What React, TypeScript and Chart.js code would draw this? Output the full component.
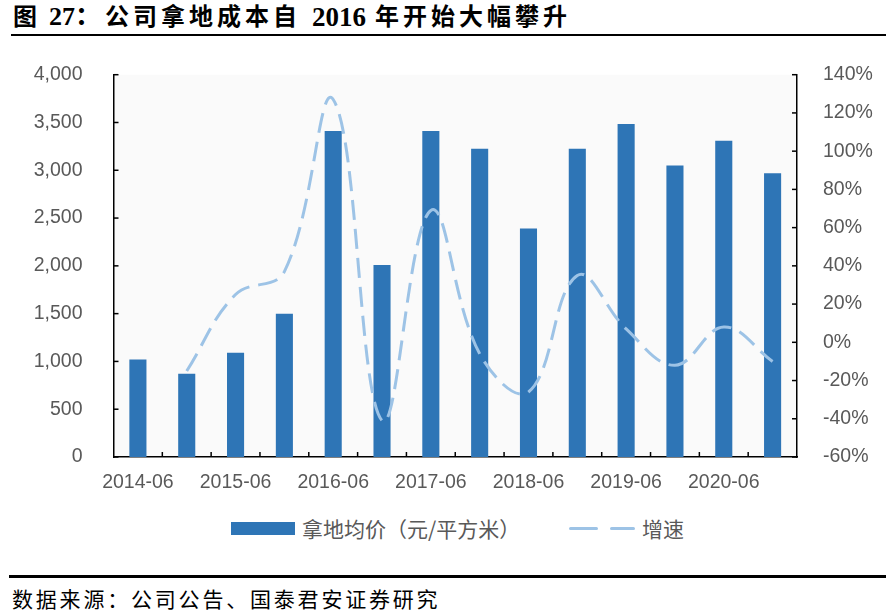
import React, { useEffect, useRef } from 'react';
import { Chart, registerables } from 'chart.js';

Chart.register(...registerables);

// ---- data ----
const categories = [
  '2014-06', '2014-12', '2015-06', '2015-12', '2016-06', '2016-12', '2017-06',
  '2017-12', '2018-06', '2018-12', '2019-06', '2019-12', '2020-06', '2020-12',
];
const landPrice = [1020, 870, 1090, 1500, 3410, 2010, 3410, 3225, 2390, 3225, 3485, 3050, 3310, 2970];
const growth = [null, -15, 25, 37, 127, -41, 69, -6, -26, 35, 7, -12, 8, -10];

const leftAxis = { min: 0, max: 4000, step: 500 };
const rightAxis = { min: -60, max: 140, step: 20 };

const seriesNames = ['拿地均价（元/平方米）', '增速'];
const titleParts = ['图', '27：', '公司拿地成本自', '2016', '年开始大幅攀升'];
const sourceText = '数据来源：公司公告、国泰君安证券研究';

const BAR_COLOR = '#2E75B6';
const LINE_COLOR = '#9DC3E6';
const TEXT_COLOR = '#595959';
const TICK_FONT = { family: "'Liberation Sans', Arial, sans-serif", size: 19.5 };

const plotBg = {
  id: 'plotBg',
  beforeDraw(chart: any) {
    const { ctx, chartArea } = chart;
    ctx.save();
    ctx.fillStyle = '#fafafa';
    ctx.fillRect(chartArea.left, chartArea.top, chartArea.right - chartArea.left, chartArea.bottom - chartArea.top);
    ctx.restore();
  },
};

const innerTicks = {
  id: 'innerTicks',
  afterDraw(chart: any) {
    const { ctx, chartArea, scales } = chart;
    const len = 5;
    ctx.save();
    ctx.strokeStyle = '#000';
    ctx.lineWidth = 1.5;
    const seg = (x1: number, y1: number, x2: number, y2: number) => {
      ctx.beginPath();
      ctx.moveTo(x1, y1);
      ctx.lineTo(x2, y2);
      ctx.stroke();
    };
    scales.y.ticks.forEach((t: any) => {
      const py = scales.y.getPixelForValue(t.value);
      seg(chartArea.left, py, chartArea.left + len, py);
    });
    scales.y1.ticks.forEach((t: any) => {
      const py = scales.y1.getPixelForValue(t.value);
      seg(chartArea.right - len, py, chartArea.right, py);
    });
    for (let i = 1; i < categories.length; i++) {
      const px = (scales.x.getPixelForValue(i - 1) + scales.x.getPixelForValue(i)) / 2;
      seg(px, chartArea.bottom, px, chartArea.bottom - len);
    }
    ctx.restore();
  },
};

function ChartCanvas() {
  const ref = useRef<HTMLCanvasElement | null>(null);
  useEffect(() => {
    if (!ref.current) return;
    const chart = new Chart(ref.current, {
      type: 'bar',
      data: {
        labels: categories,
        datasets: [
          {
            type: 'bar',
            label: seriesNames[0],
            data: landPrice,
            backgroundColor: BAR_COLOR,
            borderWidth: 0,
            yAxisID: 'y',
            categoryPercentage: 0.7,
            barPercentage: 0.5,
            order: 2,
          },
          {
            type: 'line',
            label: seriesNames[1],
            data: growth as any,
            borderColor: LINE_COLOR,
            backgroundColor: LINE_COLOR,
            borderWidth: 3,
            borderDash: [20, 9],
            pointRadius: 0,
            tension: 0.4,
            fill: false,
            yAxisID: 'y1',
            order: 1,
          },
        ],
      },
      options: {
        responsive: false,
        animation: false,
        layout: { padding: { top: 33, left: 0, right: 0, bottom: 0 } },
        plugins: { legend: { display: false }, tooltip: { enabled: false } },
        scales: {
          x: {
            offset: true,
            grid: { display: false },
            border: { display: true, color: '#000', width: 1.5 },
            ticks: {
              autoSkip: false,
              maxRotation: 0,
              minRotation: 0,
              color: TEXT_COLOR,
              font: TICK_FONT,
              padding: 6,
              callback: (_v: any, i: number) => (i % 2 === 0 ? categories[i] : ''),
            },
            afterFit: (s: any) => {
              s.height = 53;
            },
          },
          y: {
            position: 'left',
            min: leftAxis.min,
            max: leftAxis.max,
            grid: { display: false },
            border: { display: true, color: '#000', width: 1.5 },
            ticks: {
              stepSize: leftAxis.step,
              color: TEXT_COLOR,
              font: TICK_FONT,
              padding: 23,
              callback: (v: any) => Number(v).toLocaleString('en-US'),
            },
            afterFit: (s: any) => {
              s.width = 113.5;
            },
          },
          y1: {
            position: 'right',
            min: rightAxis.min,
            max: rightAxis.max,
            grid: { display: false },
            border: { display: true, color: '#000', width: 1.5 },
            ticks: {
              stepSize: rightAxis.step,
              color: TEXT_COLOR,
              font: TICK_FONT,
              padding: 18,
              callback: (v: any) => `${v}%`,
            },
            afterFit: (s: any) => {
              s.width = 89;
            },
          },
        },
      },
      plugins: [plotBg, innerTicks],
    } as any);
    return () => chart.destroy();
  }, []);
  return (
    <canvas
      ref={ref}
      width={886}
      height={470}
      style={{ position: 'absolute', left: 0, top: 40, width: 886, height: 470 }}
    />
  );
}

export default function App() {
  const cjk = "'Noto Sans CJK SC', sans-serif";
  const titleFont = "'Liberation Serif', 'Noto Sans CJK SC', serif";
  const titleLefts = [13, 49, 105, 312, 375];
  const titleSizes = [24, 26, 24, 27, 24];
  return (
    <div
      style={{
        position: 'absolute',
        left: 0,
        top: 0,
        width: 886,
        height: 614,
        background: '#fff',
        overflow: 'hidden',
      }}
    >
      {titleParts.map((t, i) => (
        <div
          key={i}
          style={{
            position: 'absolute',
            left: titleLefts[i],
            top: 3,
            fontFamily: titleFont,
            fontWeight: 'bold',
            fontSize: titleSizes[i],
            lineHeight: '28px',
            letterSpacing: i === 2 || i === 4 ? 4 : 0,
            whiteSpace: 'pre',
            color: '#000',
          }}
        >
          {t}
        </div>
      ))}
      <div style={{ position: 'absolute', left: 11, right: 0, top: 34, height: 2, background: '#000' }} />

      <ChartCanvas />

      {/* legend */}
      <div style={{ position: 'absolute', left: 231, top: 522, width: 64, height: 13, background: BAR_COLOR }} />
      <div
        style={{
          position: 'absolute',
          left: 302,
          top: 514,
          fontFamily: cjk,
          fontSize: 21,
          lineHeight: '28px',
          color: TEXT_COLOR,
          whiteSpace: 'pre',
        }}
      >
        {seriesNames[0]}
      </div>
      <div style={{ position: 'absolute', left: 569, top: 527, width: 29, height: 3, background: LINE_COLOR, borderRadius: 1.5 }} />
      <div style={{ position: 'absolute', left: 610, top: 527, width: 25, height: 3, background: LINE_COLOR, borderRadius: 1.5 }} />
      <div
        style={{
          position: 'absolute',
          left: 642,
          top: 514,
          fontFamily: cjk,
          fontSize: 21,
          lineHeight: '28px',
          color: TEXT_COLOR,
          whiteSpace: 'pre',
        }}
      >
        {seriesNames[1]}
      </div>

      <div style={{ position: 'absolute', left: 9, right: 0, top: 575, height: 3, background: '#000' }} />
      <div
        style={{
          position: 'absolute',
          left: 12,
          top: 584,
          fontFamily: cjk,
          fontSize: 21,
          lineHeight: '28px',
          letterSpacing: 2.8,
          color: '#000',
          whiteSpace: 'pre',
        }}
      >
        {sourceText}
      </div>
    </div>
  );
}
